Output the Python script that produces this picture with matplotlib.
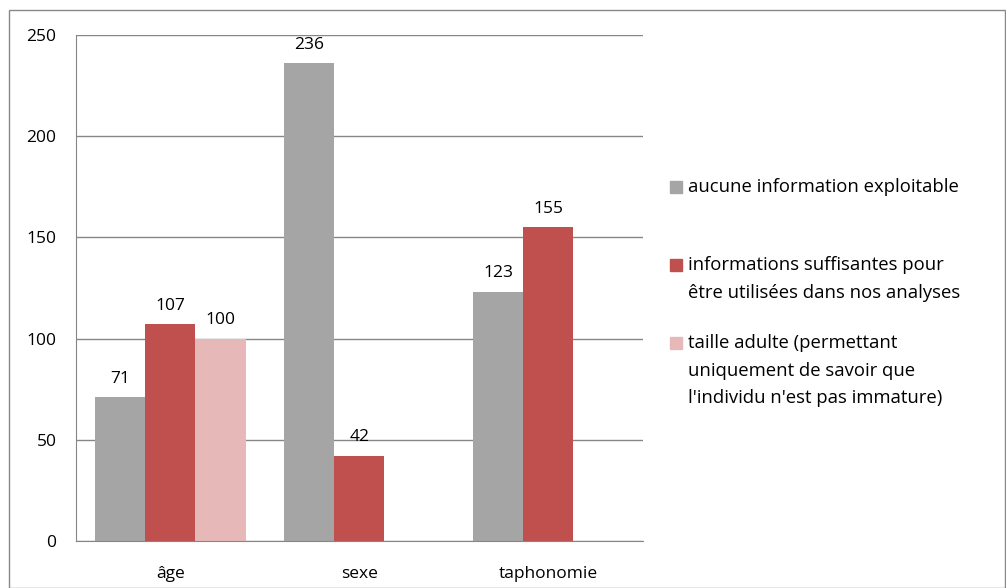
import numpy as np
import matplotlib.pyplot as plt
from matplotlib.patches import Rectangle

plt.rcParams['font.family'] = ['Open Sans', 'DejaVu Sans']

# data
categories = ['âge', 'sexe', 'taphonomie']
aucune = [71, 236, 123]
suffisantes = [107, 42, 155]
taille_adulte = [100, 0, 0]

labels = ['aucune information exploitable',
          'informations suffisantes pour\nêtre utilisées dans nos analyses',
          "taille adulte (permettant\nuniquement de savoir que\nl'individu n'est pas immature)"]
colors = ['#A5A5A5', '#C0504D', '#E6B9B8']

fig = plt.figure(figsize=(10.06, 5.88), dpi=100)
ax = fig.add_axes([0.0755, 0.0799, 0.5636, 0.8606])

x = np.arange(len(categories))
w = 0.265
series = [aucune, suffisantes, taille_adulte]
for k, (vals, c) in enumerate(zip(series, colors)):
    pos = x + (k - 1) * w
    bars = ax.bar(pos, vals, width=w, color=c, zorder=3)
    for b, v in zip(bars, vals):
        if v > 0:
            ax.annotate(str(v), (b.get_x() + b.get_width() / 2, v),
                        xytext=(0, 13.5), textcoords='offset points',
                        ha='center', va='center', fontsize=12.5)

ax.set_xlim(-0.5, 2.5)
ax.set_ylim(0, 250)
ax.set_yticks(range(0, 251, 50))
ax.set_xticks(x)
ax.set_xticklabels(categories, fontsize=12.5)
ax.tick_params(axis='y', length=0, pad=14, labelsize=12.5)
ax.tick_params(axis='x', length=0, pad=18)
ax.grid(axis='y', color='#868686', linewidth=1, zorder=0)
for s in ['top', 'right']:
    ax.spines[s].set_visible(False)
for s in ['left', 'bottom']:
    ax.spines[s].set_color('#868686')
    ax.spines[s].set_zorder(4)

# legend drawn by hand, box aligned with first line of each entry
leg_y = [187, 265, 343]
for lab, c, yy in zip(labels, colors, leg_y):
    fy = 1 - yy / 588
    fig.add_artist(Rectangle((670 / 1006, fy - 6 / 588), 12 / 1006, 12 / 588,
                             transform=fig.transFigure, color=c))
    fig.text(688 / 1006, fy + 9 / 588, lab, ha='left', va='top',
             fontsize=13.3, linespacing=1.68)

# outer frame
fig.add_artist(Rectangle((9 / 1006, 0), 996 / 1006, 1 - 10 / 588,
                         transform=fig.transFigure, fill=False,
                         edgecolor='#888888', linewidth=1))

fig.savefig('out.png', dpi=100)
